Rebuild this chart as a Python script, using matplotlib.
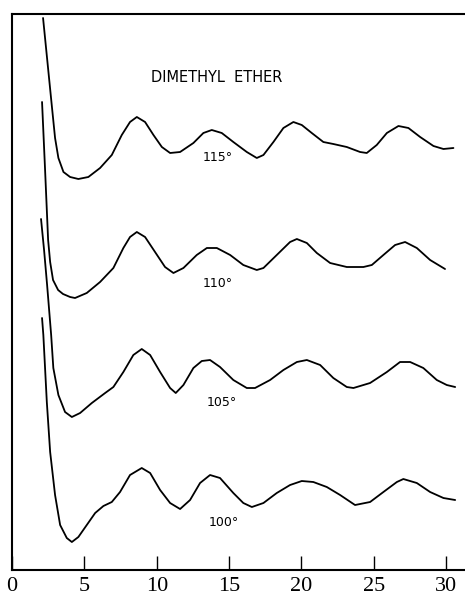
import matplotlib
matplotlib.use("Agg")
import matplotlib.pyplot as plt

# s values (x) and intensity (arbitrary units, height above the axis) per bond angle
s_115 = [2.14, 2.74, 2.97, 3.20, 3.55, 4.01, 4.58, 5.27, 6.08, 6.89, 7.58, 8.15, 8.62,
         9.19, 9.77, 10.35, 10.92, 11.61, 12.53, 13.22, 13.80, 14.49, 15.29, 16.22,
         16.91, 17.37, 18.06, 18.75, 19.44, 20.02, 20.71, 21.51, 22.20, 23.13, 24.05,
         24.51, 25.20, 25.90, 26.70, 27.39, 28.20, 29.12, 29.81, 30.50]
i_115 = [552, 465, 432, 412, 398, 393, 391, 393, 402, 415, 435, 448, 453,
         448, 435, 423, 417, 418, 427, 437, 440, 437, 428, 418,
         412, 415, 428, 442, 448, 445, 437, 428, 426, 423, 418,
         417, 425, 437, 444, 442, 433, 424, 421, 422]

s_110 = [2.07, 2.28, 2.49, 2.63, 2.83, 3.18, 3.52, 4.01, 4.35, 5.16, 6.08, 7.00, 7.69,
         8.15, 8.62, 9.19, 9.88, 10.57, 11.15, 11.84, 12.76, 13.46, 14.15, 15.07,
         15.98, 16.91, 17.37, 18.29, 19.21, 19.68, 20.37, 21.06, 21.98, 23.13, 24.28,
         24.86, 25.66, 26.47, 27.16, 27.97, 28.89, 29.92]
i_110 = [468, 400, 330, 308, 290, 280, 276, 273, 272, 277, 288, 302, 322,
         333, 338, 333, 318, 303, 297, 302, 315, 322, 322, 315,
         305, 300, 302, 315, 328, 331, 327, 317, 307, 303, 303,
         305, 315, 325, 328, 322, 310, 301]

s_105 = [2.00, 2.21, 2.42, 2.56, 2.70, 2.85, 3.20, 3.66, 4.13, 4.70, 5.51, 6.43, 7.00,
         7.69, 8.38, 8.96, 9.54, 10.23, 10.92, 11.31, 11.84, 12.53, 13.11, 13.68,
         14.37, 15.29, 16.22, 16.79, 17.83, 18.75, 19.68, 20.37, 21.29, 22.20, 23.13,
         23.59, 24.74, 25.90, 26.81, 27.51, 28.42, 29.35, 30.04, 30.62]
i_105 = [351, 320, 285, 260, 235, 202, 175, 158, 153, 157, 167, 177, 183,
         198, 215, 221, 215, 198, 182, 177, 185, 202, 209, 210,
         203, 190, 182, 182, 190, 200, 208, 210, 205, 192, 183,
         182, 187, 198, 208, 208, 202, 190, 185, 183]

s_100 = [2.07, 2.16, 2.40, 2.63, 2.97, 3.32, 3.78, 4.13, 4.58, 5.16, 5.74, 6.31, 6.89,
         7.46, 8.15, 8.96, 9.54, 10.23, 10.92, 11.61, 12.30, 12.99, 13.68, 14.37,
         15.29, 15.98, 16.57, 17.37, 18.29, 19.21, 20.02, 20.82, 21.75, 22.67, 23.70,
         24.74, 25.66, 26.59, 27.04, 27.97, 28.89, 29.81, 30.62]
i_100 = [252, 235, 168, 118, 75, 45, 32, 28, 33, 45, 57, 64, 68,
         78, 95, 102, 97, 80, 67, 61, 70, 87, 95, 92,
         77, 67, 63, 67, 77, 85, 89, 88, 83, 75, 65,
         68, 78, 88, 91, 87, 78, 72, 70]

angles = ["115°", "110°", "105°", "100°"]
label_x = [14.24, 14.24, 14.49, 14.60]
label_y = [412, 287, 168, 48]
x_ticks = [0, 5, 10, 15, 20, 25, 30]

fig = plt.figure(figsize=(4.65, 5.98), dpi=100)
ax = fig.add_axes([0.026, 0.0468, 0.974, 0.9298])

for s, inten in [(s_115, i_115), (s_110, i_110), (s_105, i_105), (s_100, i_100)]:
    ax.plot(s, inten, color="black", lw=1.3, solid_joinstyle="round",
            solid_capstyle="round")

for lab, lx, ly in zip(angles, label_x, label_y):
    ax.text(lx, ly, lab, ha="center", va="center", fontsize=9, family="DejaVu Sans")

ax.text(14.17, 492, "DIMETHYL  ETHER", ha="center", va="center", fontsize=10.5,
        family="DejaVu Sans")

ax.set_xlim(0, 31.3)
ax.set_ylim(0, 556)
ax.set_xticks(x_ticks)
ax.set_xticklabels([str(t) for t in x_ticks], family="Liberation Serif", fontsize=16)
ax.set_yticks([])
ax.tick_params(axis="x", direction="in", length=10, width=1, pad=5)
ax.spines["right"].set_visible(False)
for side in ["left", "bottom", "top"]:
    ax.spines[side].set_linewidth(1.5)

fig.savefig("out.png", dpi=100)
